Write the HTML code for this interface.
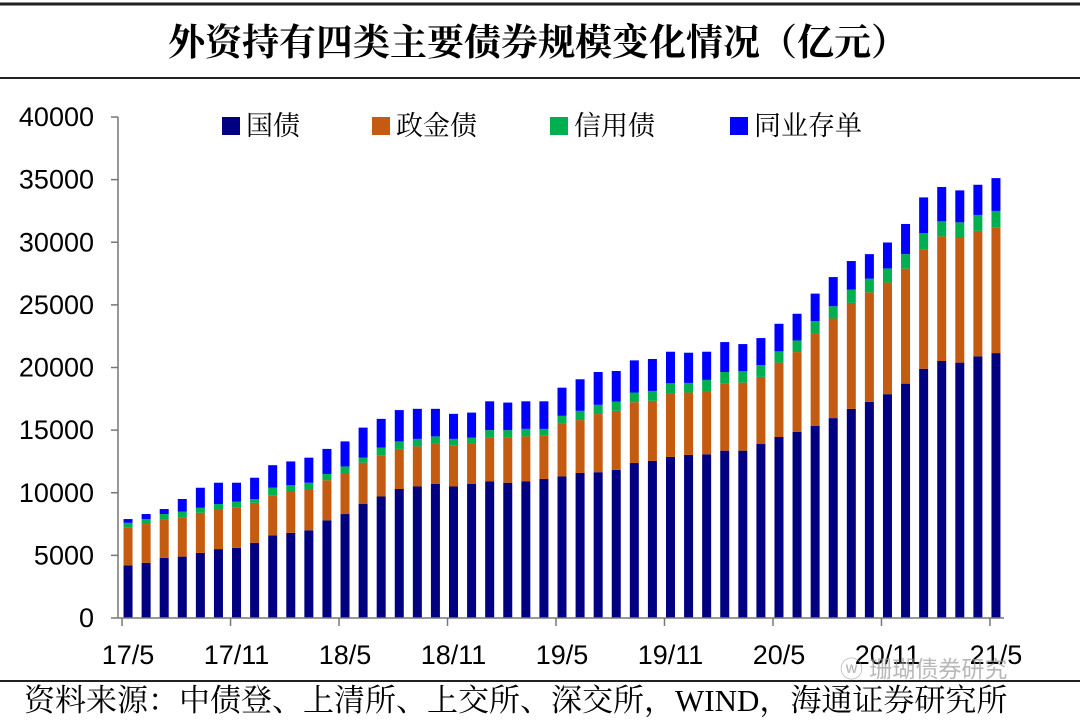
<!DOCTYPE html>
<html><head><meta charset="utf-8"><style>
body{margin:0;background:#fff;}
svg{display:block;}
</style></head><body>
<svg id="chart" width="1080" height="721" xmlns="http://www.w3.org/2000/svg">
<line x1="0" y1="4" x2="1080" y2="4" stroke="#222" stroke-width="3"/>
<text x="538" y="55" text-anchor="middle" font-family="'Liberation Serif','Noto Serif CJK SC',serif" font-size="37" font-weight="bold" fill="#000">外资持有四类主要债券规模变化情况（亿元）</text>
<line x1="0" y1="78" x2="1080" y2="78" stroke="#222" stroke-width="2"/>
<g id="yaxis"></g>
<g id="bars"></g>
<g id="xaxis"></g>
<g id="legend"></g>
<text x="840" y="677" font-family="'Liberation Sans','Noto Sans CJK SC',sans-serif" font-size="23" fill="#999" opacity="0.7">ⓦ 珊瑚债券研究</text>
<line x1="0" y1="681" x2="1080" y2="681" stroke="#222" stroke-width="2"/>
<text x="24" y="711" font-family="'Liberation Serif','Noto Serif CJK SC',serif" font-size="31" fill="#000">资料来源：中债登、上清所、上交所、深交所，WIND，海通证券研究所</text>
</svg>
<script>
const categories = ["17/5","17/6","17/7","17/8","17/9","17/10","17/11","17/12","18/1","18/2","18/3","18/4","18/5","18/6","18/7","18/8","18/9","18/10","18/11","18/12","19/1","19/2","19/3","19/4","19/5","19/6","19/7","19/8","19/9","19/10","19/11","19/12","20/1","20/2","20/3","20/4","20/5","20/6","20/7","20/8","20/9","20/10","20/11","20/12","21/1","21/2","21/3","21/4","21/5"];
const govBonds = [4200,4400,4800,4900,5200,5500,5600,6000,6600,6800,7000,7800,8300,9100,9700,10300,10500,10700,10500,10700,10900,10800,10900,11100,11300,11580,11640,11830,12380,12540,12860,13020,13070,13360,13360,13890,14450,14870,15350,15960,16700,17260,17870,18710,19900,20520,20390,20890,21150];
const policyBonds = [3000,3100,3100,3100,3200,3200,3200,3200,3200,3300,3300,3200,3200,3300,3300,3200,3200,3200,3300,3200,3500,3600,3600,3500,4200,4220,4640,4710,4850,4800,5060,4980,5010,5350,5430,5360,5940,6360,7370,7950,8460,8740,8910,9180,9550,9950,9950,10020,10050];
const creditBonds = [400,400,400,500,400,400,500,300,600,500,500,500,600,400,600,600,600,600,500,500,600,600,600,500,640,740,740,740,770,790,820,770,930,930,910,950,900,930,980,980,1060,1090,1130,1160,1270,1200,1250,1270,1300];
const ncds = [300,400,400,1000,1600,1700,1500,1700,1800,1900,2000,2000,2000,2400,2300,2500,2400,2200,2000,2000,2300,2200,2200,2200,2250,2520,2620,2440,2570,2550,2520,2410,2250,2390,2170,2150,2200,2130,2200,2330,2280,1960,2070,2410,2860,2740,2550,2410,2620];
const seriesNames = ["国债","政金债","信用债","同业存单"];
const yTicks = [0,5000,10000,15000,20000,25000,30000,35000,40000];
const xTickLabels = ["17/5","17/11","18/5","18/11","19/5","19/11","20/5","20/11","21/5"];

const NS="http://www.w3.org/2000/svg";
const colors=["#000080","#C55A11","#00B050","#0000FF"];
const x0=118, x1=1004, y0=618, yTop=117, yMax=40000;
const step=(x1-x0)/categories.length;
const yS=v=>y0-(v/yMax)*(y0-yTop);
const xC=i=>x0+step*(i+0.5)+1;
function mk(t,a,p){const e=document.createElementNS(NS,t);for(const k in a)e.setAttribute(k,a[k]);p.appendChild(e);return e;}
const ya=document.getElementById('yaxis');
const yl=mk('line',{x1:x0,y1:yTop,x2:x0,y2:y0,stroke:'#777','stroke-width':1.5},ya);


yTicks.forEach(v=>{
  const t=mk('line',{x1:x0-7,y1:yS(v),x2:x0,y2:yS(v),stroke:'#777','stroke-width':1.5},ya);
  
  
  const l=mk('text',{x:94,y:yS(v)+9,'text-anchor':'end','font-family':'Liberation Sans, sans-serif','font-size':27,fill:'#000'},ya);
  l.textContent=v;
  
  
});
const bg=document.getElementById('bars');
const series=[govBonds,policyBonds,creditBonds,ncds];
categories.forEach((c,i)=>{
  let acc=0;
  series.forEach((s,k)=>{
    const v=s[i];
    const r=mk('rect',{x:xC(i)-4.5,y:yS(acc+v),width:9,height:yS(acc)-yS(acc+v),fill:colors[k]},bg);
    
    
    acc+=v;
  });
});
const xa=document.getElementById('xaxis');
const xl=mk('line',{x1:x0,y1:y0,x2:x1,y2:y0,stroke:'#777','stroke-width':1.5},xa);


xTickLabels.forEach(lab=>{
  const i=categories.indexOf(lab);
  const tx=xC(i)-6;
  const t=mk('line',{x1:tx,y1:y0,x2:tx,y2:y0+8,stroke:'#777','stroke-width':1.5},xa);
  
  
  const l=mk('text',{x:xC(i),y:664,'text-anchor':'middle','font-family':'Liberation Sans, sans-serif','font-size':27,fill:'#000'},xa);
  l.textContent=lab;
  
  
});
const lg=document.getElementById('legend');
const lx=[222,372,550,730];
seriesNames.forEach((n,k)=>{
  const r=mk('rect',{x:lx[k],y:117,width:18,height:18,fill:colors[k]},lg);
  
  
  const t=mk('text',{x:lx[k]+24,y:135,'font-family':'Liberation Serif, Noto Serif CJK SC, serif','font-size':27,fill:'#000'},lg);
  t.textContent=n;
  
  
});
</script>
</body></html>
